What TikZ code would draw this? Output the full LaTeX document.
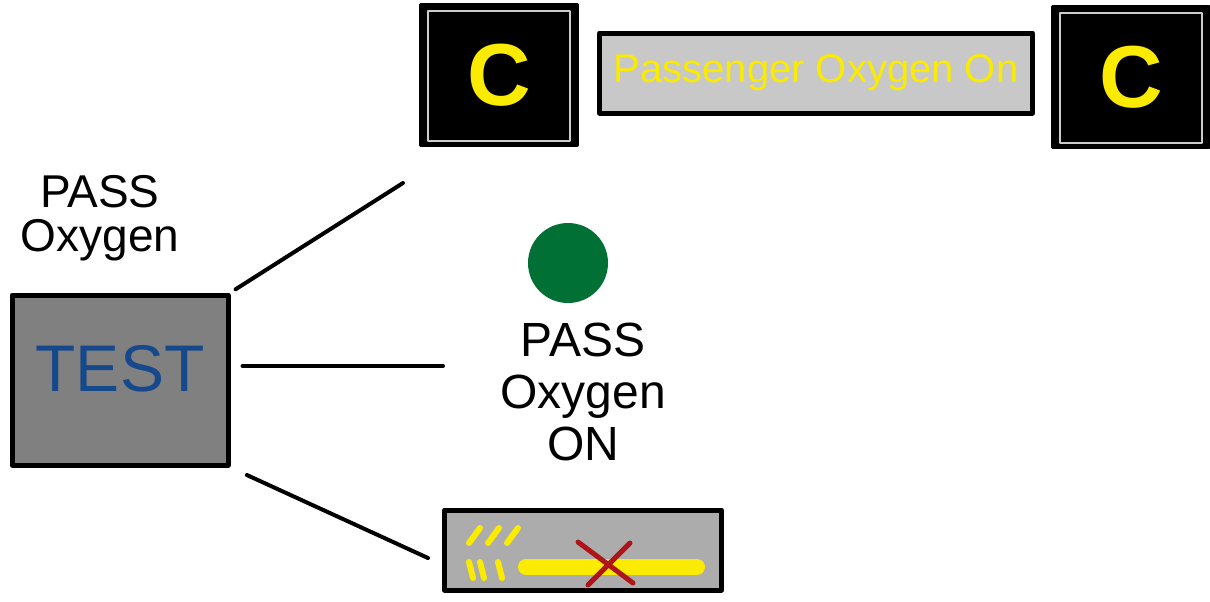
\documentclass[tikz,border=0pt]{standalone}
\usepackage{fontspec}
\setmainfont{Liberation Sans}
\usetikzlibrary{positioning}
\definecolor{lampgreen}{RGB}{0,112,52}
\definecolor{testblue}{RGB}{22,72,140}
\definecolor{crossred}{RGB}{175,20,25}
\definecolor{lampyellow}{RGB}{250,235,0}
\begin{document}
\begin{tikzpicture}[x=0.5pt,y=-0.5pt,line join=round,line cap=round,
		wire/.style={line width=2pt},
		cbox/.style={draw=black,fill=black,line width=2pt,minimum width=78pt,minimum height=70pt,inner sep=0pt,text=lampyellow,font=\fontsize{44}{44}\selectfont\bfseries},
		word/.style={align=center,font=\fontsize{23}{22}\selectfont}]
	\useasboundingbox (0,0) rectangle (1210,601);
	\def\lampC#1#2{
		\node[cbox] (#1) at #2 {C};
		\draw[white!80!black,line width=1.2pt] ([shift={(9,8)}]#1.north west) rectangle ([shift={(-9,-6)}]#1.south east);
	}
	\lampC{cleft}{(499,75)}
	\lampC{cright}{(1131,77)}
	\node[draw=black,line width=2.5pt,fill=gray!43,minimum width=216.5pt,minimum height=40pt,text=lampyellow,font=\fontsize{20}{20}\selectfont] (banner) at (816,73) {Passenger Oxygen On};
	\node[draw=black,line width=2.5pt,fill=gray,minimum width=108pt,minimum height=85pt,text=testblue,font=\fontsize{33}{33}\selectfont,text depth=12pt] (test) at (120,380) {TEST};
	\node[word] (passL) at (100,218) {PASS\\Oxygen};
	\node[circle,fill=lampgreen,minimum size=40pt,inner sep=0pt] (lamp) at (568,263) {};
	\node[word,font=\fontsize{24}{26}\selectfont] (passM) at (583,392) {PASS\\Oxygen\\ON};
	\node[draw=black,line width=2.5pt,fill=gray!65,minimum width=138.5pt,minimum height=40pt] (ecam) at (583,550) {};
	\foreach \x in {469,488,507}{
		\draw[lampyellow,line width=3pt] (\x,543) -- ++(11,-15);
	}
	\foreach \x in {469,480,498}{
		\draw[lampyellow,line width=3pt] (\x,562) -- ++(4,16);
	}
	\draw[lampyellow,line width=8pt] (526,567) -- (697,567);
	\draw[crossred,line width=2.5pt] (578,542) -- (633,583) (630,543) -- (588,585);
	\coordinate (tipA) at (403,183);
	\coordinate (tipB) at (443,366);
	\coordinate (tipC) at (428,558);
	\draw[wire,shorten <=3pt] (test.north east) -- (tipA);
	\draw[wire,shorten <=6pt] (test.east |- tipB) -- (tipB);
	\draw[wire,shorten <=9pt] (test.south east) -- (tipC);
\end{tikzpicture}
\end{document}
